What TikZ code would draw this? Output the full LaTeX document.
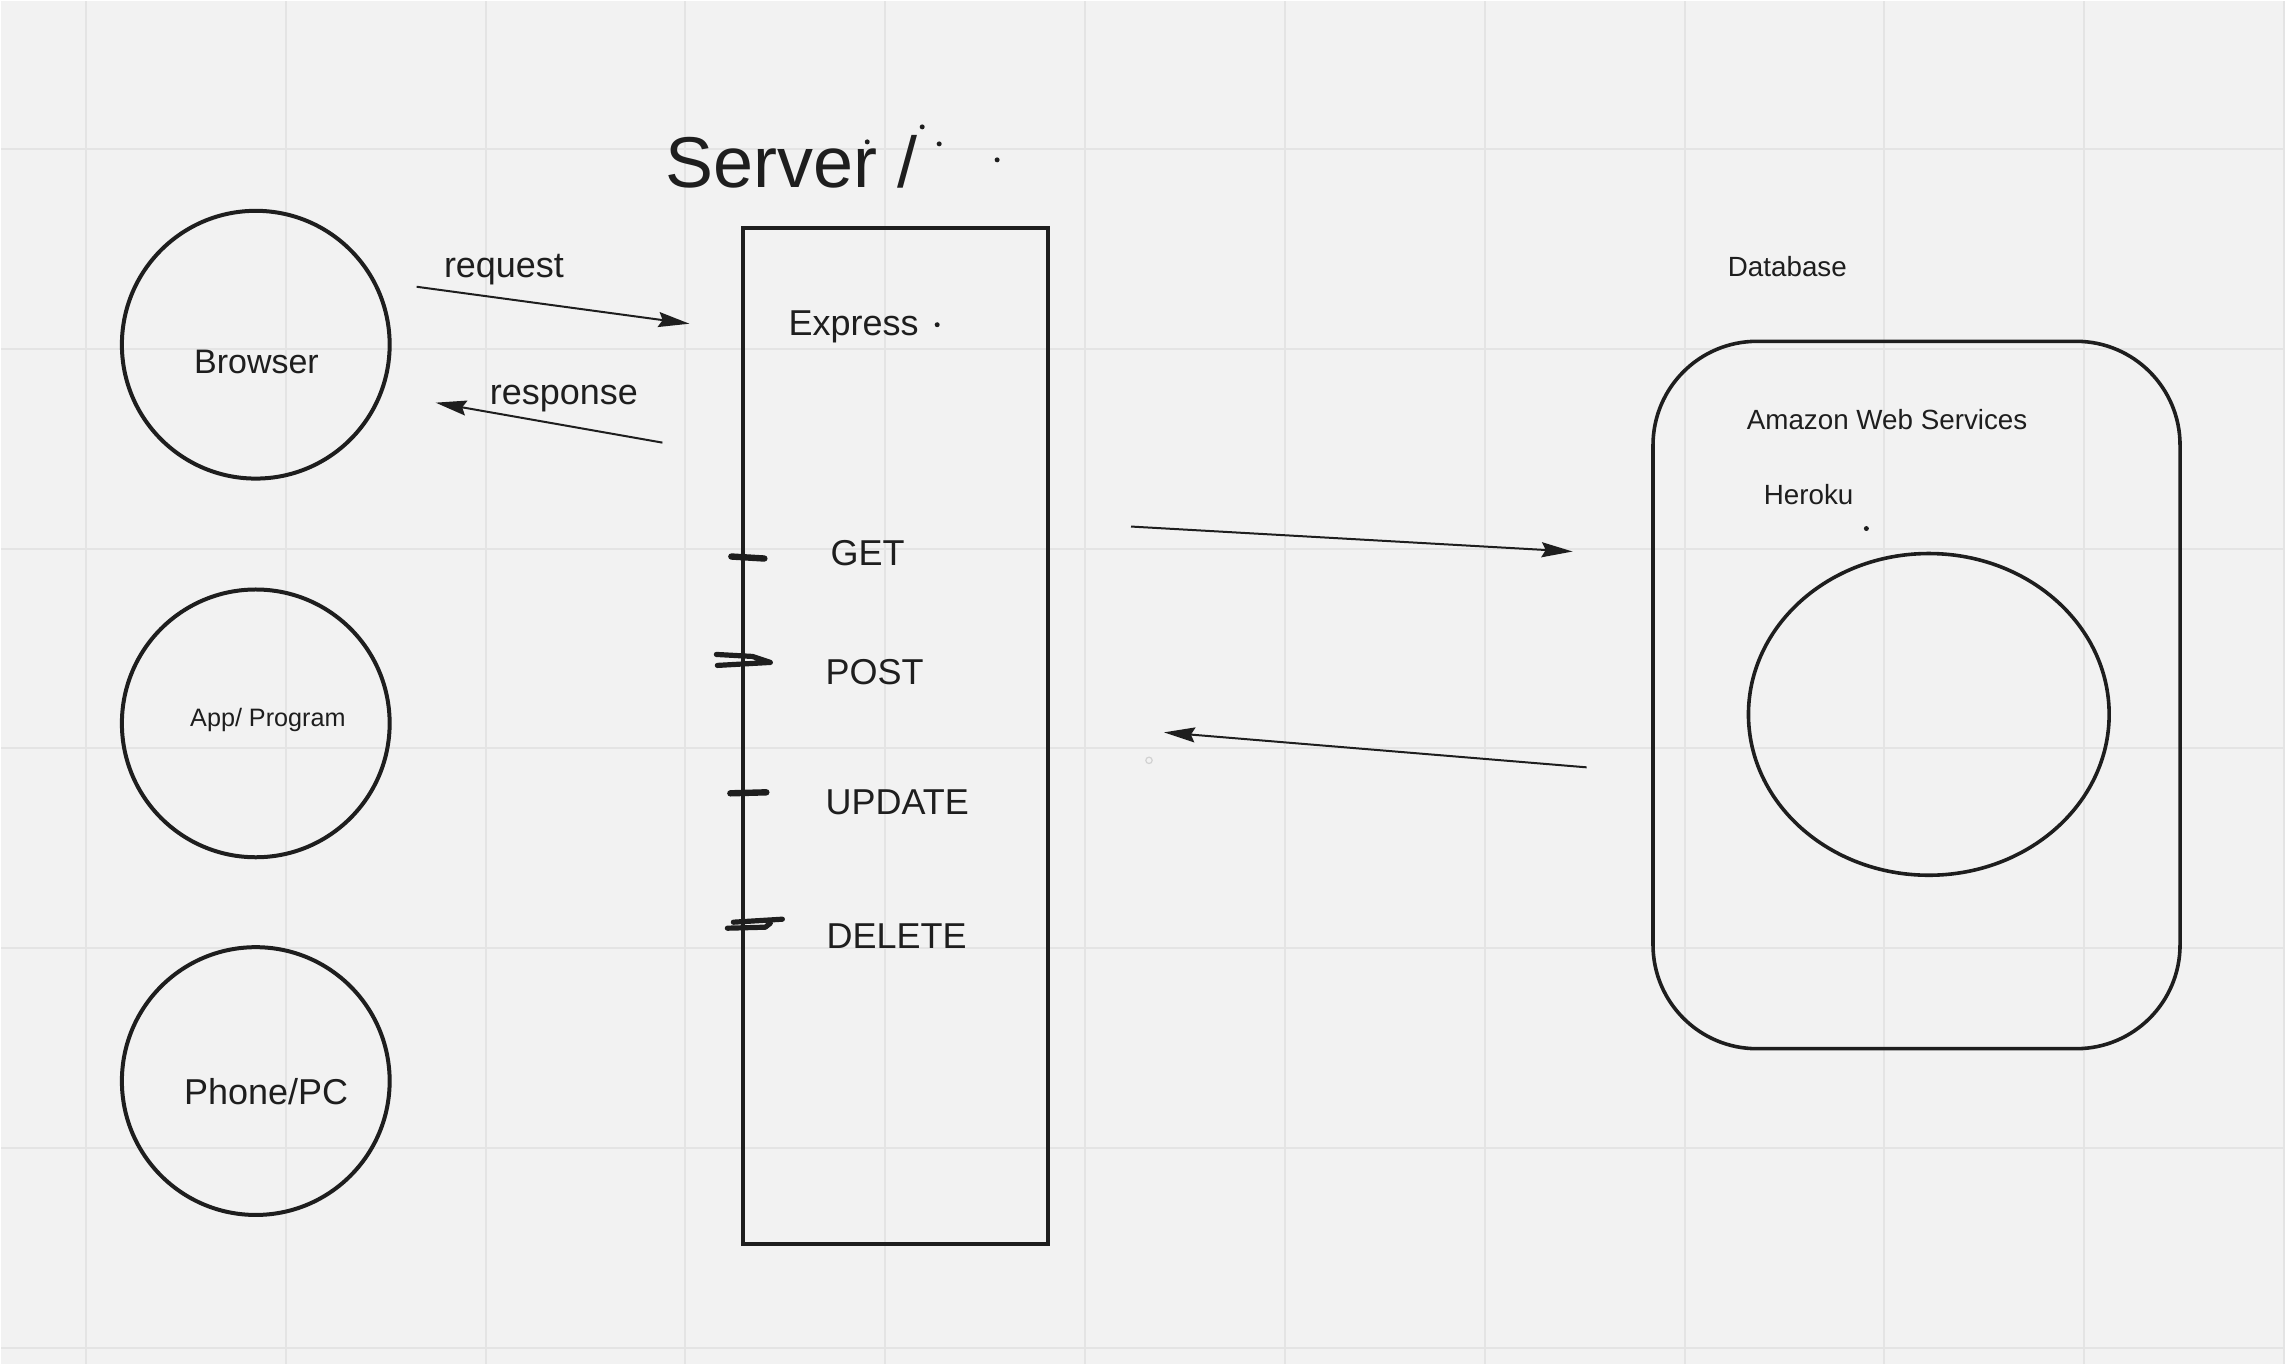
\documentclass[tikz,border=0pt]{standalone}
\usepackage{fontspec}
\setmainfont{Liberation Sans}
\usetikzlibrary{positioning,arrows.meta,shapes.geometric}
\definecolor{ink}{HTML}{1E1E1E}
\definecolor{paper}{HTML}{F2F2F2}
\definecolor{gridln}{HTML}{E4E4E4}
\tikzset{client/.style={draw=ink,circle,line width=2pt,minimum size=134pt,inner
sep=0pt},lbl/.style={inner sep=0pt,anchor=base west,text=ink,font=\fontsize{18}{20}\selectfont},
lblsm/.style={lbl,font=\fontsize{13.9}{16}\selectfont},
flow/.style={draw=ink,line width=1pt,-{Stealth[length=15.5pt,width=7.5pt,inset=2pt]}},
tickmark/.style={draw=ink,line width=3.2pt,line cap=round,line join=round}}

\begin{document}
\begin{tikzpicture}[x=0.5pt,y=-0.5pt]
		% board
		\fill[paper] (0,0) rectangle (2286,1364);
		\foreach \gx in {85,285,...,2285} \draw[gridln,line width=1pt] (\gx,0) -- (\gx,1364);
		\foreach \gy in {148,348,...,1348} \draw[gridln,line width=1pt] (0,\gy) -- (2286,\gy);
		% clients
		\node (browser) [client] at (255,344) {};
		\node (app) [client] at (255,723) {};
		\node (phone) [client] at (255,1081) {};
		\node (browser-t) [lbl,font=\fontsize{17}{19}\selectfont] at (193,373) {Browser};
		\node (app-t) [lbl,font=\fontsize{12.6}{15}\selectfont] at (189,726) {App/ Program};
		\node (phone-t) [lbl] at (183,1104) {Phone/PC};
		% server
		\node (title) [lbl,font=\fontsize{36}{40}\selectfont] at (665,187) {Server /};
		\node (server) [draw=ink,line width=1.8pt,minimum width=152.5pt,minimum height=508.5pt,inner sep=0pt] at (895.2,735.4) {};
		\node (express) [lbl] at (788,335) {Express};
		\node (get) [lbl] at (830,565) {GET};
		\node (post) [lbl] at (825,684) {POST};
		\node (update) [lbl] at (825,814) {UPDATE};
		\node (delete) [lbl] at (826,948) {DELETE};
		\draw[tickmark] (731,556) -- (764,558);
		\draw[tickmark,line width=2.6pt] (716,654) -- (752,656) -- (770,662) -- (717,665);
		\draw[tickmark] (730,793) -- (766,792);
		\draw[tickmark,line width=2.6pt] (733,922) -- (782,919);
		\draw[tickmark,line width=2.6pt] (727,928) -- (765,927) -- (770,923);
		% database
		\node (dbname) [lblsm] at (1728,276) {Database};
		\node (cloud) [draw=ink,line width=1.8pt,rounded corners=52pt,minimum width=263.75pt,minimum height=354pt,inner sep=0pt] at (1917.2,694.6) {};
		\node (aws) [lblsm] at (1747,429) {Amazon Web Services};
		\node (heroku) [lblsm] at (1764,504) {Heroku};
		\node (db) [draw=ink,ellipse,line width=1.8pt,minimum width=180.5pt,minimum height=161pt,inner sep=0pt] at (1929.5,714) {};
		% connectors
		\coordinate (req-a) at (416,286); \coordinate (req-b) at (689,323);
		\coordinate (res-a) at (662,442); \coordinate (res-b) at (435,402);
		\coordinate (qry-a) at (1131,526); \coordinate (qry-b) at (1573,551);
		\coordinate (ans-a) at (1587,767); \coordinate (ans-b) at (1164,732);
		\draw[flow] (req-a) -- (req-b);
		\draw[flow] (res-a) -- (res-b);
		\draw[flow] (qry-a) -- (qry-b);
		\draw[flow] (ans-a) -- (ans-b);
		\node (req-t) [lbl] at (443,277) {request};
		\node (res-t) [lbl] at (489,404) {response};
		% stray pen dots
		\foreach \dx/\dy in {867/141,922/126,939/143,997/159,937/324,1867/528}
			\fill[ink] (\dx,\dy) circle (1.25pt);
		\draw[gray!35,line width=0.6pt] (1149,760) circle (1.6pt);
	\end{tikzpicture}
\end{document}
